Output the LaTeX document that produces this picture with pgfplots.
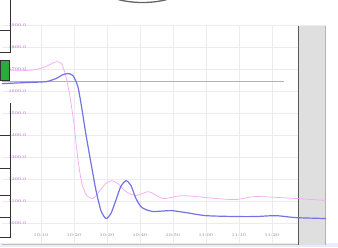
\documentclass[border=0pt]{standalone}
\usepackage{pgfplots}
\pgfplotsset{compat=1.18}
\definecolor{bl}{RGB}{115,115,228}
\definecolor{pk}{RGB}{242,170,242}
\definecolor{lab}{RGB}{200,140,220}
\definecolor{grn}{RGB}{45,170,60}
\begin{document}
\begin{tikzpicture}[x=1pt,y=1pt]
\useasboundingbox (0,0) rectangle (338,247);
\fill[blue!8] (0,0) rectangle (338,4);
\begin{axis}[
  at={(6,11)}, anchor=south west,
  scale only axis, width=324pt, height=219pt,
  xmin=-0.18, xmax=9.64, ymin=0.045, ymax=10,
  xtick={1,2,3,4,5,6,7,8},
  xticklabels={10:10,10:20,10:30,10:40,10:50,11:00,11:10,11:20},
  ytick={1,2,3,4,5,6,7,8,9,10},
  yticklabels={1000.0,1100.0,1200.0,1300.0,1400.0,1500.0,1600.0,1700.0,1800.0,1900.0},
  tick style={draw=none},
  grid=major,
  major grid style={draw=gray!15, line width=0.5pt},
  axis line style={draw=gray!50},
  axis y line*=left, axis x line*=bottom,
  separate axis lines,
  y axis line style={draw=none},
  yticklabel style={anchor=west, xshift=3pt, font=\fontsize{4.2}{4.2}\selectfont\bfseries, text=lab},
  xticklabel style={anchor=south, yshift=4pt, font=\fontsize{4.2}{4.2}\selectfont\bfseries, text=gray!70},
  clip=true,
]
\fill[gray!25] (axis cs:8.79,0.045) rectangle (axis cs:9.64,10);
\draw[gray!70!black, line width=0.6pt] (axis cs:8.79,0.045) -- (axis cs:8.79,10);
\draw[gray!60, line width=0.3pt] (axis cs:9.62,0.045) -- (axis cs:9.62,10);
\addplot[gray!60, line width=0.6pt] coordinates {(-0.18,7.45) (8.36,7.45)};
\addplot[pk, line width=0.7pt, smooth, tension=0.4] coordinates {
(-0.18,7.95) (0.39,7.95) (0.85,8.0) (1.15,8.14) (1.39,8.32) (1.52,8.36) (1.64,8.23)
(1.76,7.68) (1.88,6.77) (2.0,5.55) (2.12,3.95) (2.24,2.82) (2.39,2.27) (2.58,2.14)
(2.76,2.45) (2.97,2.82) (3.15,2.95) (3.33,2.82) (3.58,2.45) (3.88,2.27) (4.27,2.45)
(4.70,2.14) (5.30,2.27) (6.30,2.14) (6.91,2.09) (7.52,2.23) (8.73,2.14) (9.64,2.05)};
\addplot[bl, line width=1.2pt, smooth, tension=0.4] coordinates {
(-0.18,7.36) (0.55,7.41) (1.15,7.45) (1.45,7.59) (1.67,7.77) (1.82,7.82) (1.97,7.73)
(2.12,7.23) (2.24,6.23) (2.36,5.09) (2.52,3.73) (2.67,2.50) (2.82,1.59) (2.97,1.23)
(3.12,1.45) (3.27,2.05) (3.42,2.68) (3.58,2.95) (3.73,2.73) (3.88,2.14) (4.06,1.73)
(4.39,1.55) (4.94,1.59) (5.39,1.50) (6.0,1.36) (6.91,1.32) (7.52,1.32) (8.12,1.36)
(8.73,1.27) (9.64,1.23)};
\end{axis}
% left side panel fragments
\draw[black!80, line width=0.6pt] (10,247) -- (10,195) -- (0,195);
\draw[black!80, line width=0.6pt] (0,217) -- (10,217);
\draw[black!80, fill=grn, line width=0.5pt] (0,187) rectangle (9,167);
\draw[black!80, line width=0.6pt] (10,144) -- (10,10) -- (0,10);
\foreach \yy in {112,79,52,30} \draw[black!80, line width=0.6pt] (0,\yy) -- (10,\yy);
% top arc fragment
\draw[black!60, line width=1.3pt] (118,247.5) .. controls (133,243.5) and (152,243.5) .. (167,247.5);
\end{tikzpicture}
\end{document}
